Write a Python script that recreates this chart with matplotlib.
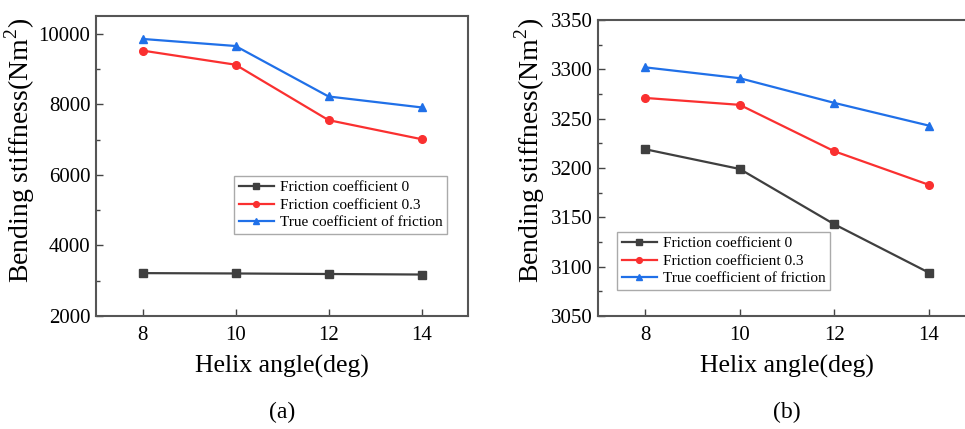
import numpy as np
import matplotlib
matplotlib.use('Agg')
import matplotlib.pyplot as plt
from matplotlib.ticker import MultipleLocator

plt.rcParams['font.family'] = ['Liberation Serif', 'DejaVu Serif']
plt.rcParams['mathtext.fontset'] = 'custom'
plt.rcParams['mathtext.rm'] = 'Liberation Serif'

# helix angle (deg)
angle = [8, 10, 12, 14]

# (a) bending stiffness
a_fric0 = [3215, 3205, 3190, 3175]
a_fric03 = [9520, 9120, 7550, 7010]
a_true = [9850, 9650, 8220, 7910]

# (b) bending stiffness
b_fric0 = [3219, 3199, 3143, 3094]
b_fric03 = [3271, 3264, 3217, 3183]
b_true = [3302, 3291, 3266, 3243]

labels = ['Friction coefficient 0', 'Friction coefficient 0.3', 'True coefficient of friction']
colors = ['#3f3f3f', '#fa3030', '#2070e8']
markers = ['s', 'o', '^']

fig = plt.figure(figsize=(9.65, 4.29), dpi=100)
W, H = 965., 429.

ax1 = fig.add_axes([96/W, 1-316/H, 372/W, 300/H])
ax2 = fig.add_axes([598/W, 1-316/H, 378/W, 296/H])


def draw(ax, series, ylim, major, minor, legend_box, tag, tag_x, ylab_xy):
    for ys, lab, c, m in zip(series, labels, colors, markers):
        ax.plot(angle, ys, color=c, marker=m, markersize=5.5, lw=1.6, label=lab)
    ax.set_xlim(7, 15)
    ax.set_ylim(*ylim)
    ax.set_xticks(angle)
    ax.yaxis.set_major_locator(MultipleLocator(major))
    ax.yaxis.set_minor_locator(MultipleLocator(minor))
    ax.tick_params(direction='in', labelsize=15, length=5, width=1, color='#444444')
    ax.tick_params(which='minor', direction='in', length=3, width=1, color='#444444')
    ax.tick_params(axis='x', pad=7)
    ax.tick_params(axis='y', pad=4)
    for s in ax.spines.values():
        s.set_color('#555555')
        s.set_linewidth(1.5)
    ax.set_xlabel('Helix angle(deg)', fontsize=18.5, labelpad=7)
    ax.set_ylabel(r'Bending stiffness(Nm$^{\mathregular{2}}$)', fontsize=20)
    ax.yaxis.set_label_coords(*ylab_xy)
    leg = ax.legend(loc='lower left', bbox_to_anchor=legend_box, fontsize=11,
                    fancybox=False, framealpha=1, edgecolor='#aaaaaa',
                    handlelength=2.3, handletextpad=0.4, borderpad=0.3,
                    labelspacing=0.25, borderaxespad=0, markerscale=0.75)
    leg.get_frame().set_linewidth(1.0)
    fig.text(tag_x/W, 1-412/H, tag, ha='center', va='center', fontsize=17)


draw(ax1, [a_fric0, a_fric03, a_true], (2000, 10500), 2000, 1000,
     ((234-96)/372, (316-234)/300), '(a)', 282, ((37-96)/372, (316-150)/300))
draw(ax2, [b_fric0, b_fric03, b_true], (3050, 3350), 50, 25,
     ((617-598)/378, (316-290)/296), '(b)', 787, ((547-598)/378, (316-150)/296))

fig.savefig('out.png', dpi=100)
